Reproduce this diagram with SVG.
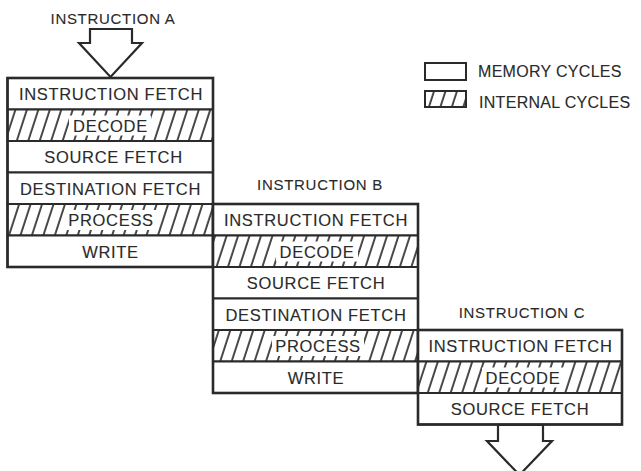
<svg xmlns="http://www.w3.org/2000/svg" width="641" height="471" viewBox="0 0 641 471">
<style>
.bg{fill:#fff}
.row{fill:#fff;stroke:#2a2a2a;stroke-width:2}
.hat{fill:url(#hatch);stroke:#2a2a2a;stroke-width:2}
.box{fill:none;stroke:#2a2a2a;stroke-width:2.6}
.t{font-family:"Liberation Sans",Arial,sans-serif;font-size:16.5px;letter-spacing:0.7px;fill:#2a2a2a;stroke:#2a2a2a;stroke-width:0.12;text-anchor:middle}
.h{font-family:"Liberation Sans",Arial,sans-serif;font-size:15px;letter-spacing:0.7px;fill:#2a2a2a;stroke:#2a2a2a;stroke-width:0.1;text-anchor:middle}
.l{font-family:"Liberation Sans",Arial,sans-serif;font-size:16px;letter-spacing:0.3px;fill:#2a2a2a;stroke:#2a2a2a;stroke-width:0.12}
.gap{fill:#fff}
.arrow{fill:#fff;stroke:#2a2a2a;stroke-width:2.2;stroke-linejoin:miter}
</style>
<defs>
<pattern id="hatch" patternUnits="userSpaceOnUse" width="10.9" height="10" patternTransform="rotate(18)">
<rect width="10.9" height="10" fill="#fff"/>
<line x1="5" y1="-1" x2="5" y2="11" stroke="#2a2a2a" stroke-width="1.7"/>
</pattern>
</defs>
<rect class="bg" x="0" y="0" width="641" height="471"/>

<g id="connectors">
<polygon class="arrow" points="90,29 132,29 132,43 142,43 110.5,77 79,43 90,43"/>
<polygon class="arrow" points="498,425 543,425 543,441 552,441 519.5,475 487,441 498,441"/>
</g>

<g id="legend">
<rect class="row" x="425" y="63" width="41" height="17"/>
<text class="l" x="478" y="77">MEMORY CYCLES</text>
<rect class="hat" x="425" y="91" width="41" height="16"/>
<text class="l" x="479" y="108">INTERNAL CYCLES</text>
</g>

<g id="instruction-a">
<text class="h" x="113" y="24">INSTRUCTION A</text>
<g id="a-fetch"><rect class="row" x="7.5" y="78" width="205.5" height="31.5"/><text class="t" x="111" y="100">INSTRUCTION FETCH</text></g>
<g id="a-decode"><rect class="hat" x="7.5" y="109.5" width="205.5" height="31.5"/><rect class="gap" x="69" y="115.5" width="82" height="20"/><text class="t" x="110.5" y="131.5">DECODE</text></g>
<g id="a-source"><rect class="row" x="7.5" y="141" width="205.5" height="31.5"/><text class="t" x="113.5" y="163">SOURCE FETCH</text></g>
<g id="a-dest"><rect class="row" x="7.5" y="172.5" width="205.5" height="31.5"/><text class="t" x="110.5" y="194.5">DESTINATION FETCH</text></g>
<g id="a-process"><rect class="hat" x="7.5" y="204" width="205.5" height="31.5"/><rect class="gap" x="65" y="210" width="92" height="20"/><text class="t" x="111" y="226">PROCESS</text></g>
<g id="a-write"><rect class="row" x="7.5" y="235.5" width="205.5" height="31.5"/><text class="t" x="110.5" y="257.5">WRITE</text></g>
<rect class="box" x="7.5" y="78" width="205.5" height="189"/>
</g>

<g id="instruction-b">
<text class="h" x="320" y="190">INSTRUCTION B</text>
<g id="b-fetch"><rect class="row" x="213" y="204" width="205" height="31.5"/><text class="t" x="316" y="226">INSTRUCTION FETCH</text></g>
<g id="b-decode"><rect class="hat" x="213" y="235.5" width="205" height="31.5"/><rect class="gap" x="276" y="241.5" width="82" height="20"/><text class="t" x="317" y="257.5">DECODE</text></g>
<g id="b-source"><rect class="row" x="213" y="267" width="205" height="31.5"/><text class="t" x="316" y="289">SOURCE FETCH</text></g>
<g id="b-dest"><rect class="row" x="213" y="298.5" width="205" height="31.5"/><text class="t" x="316" y="320.5">DESTINATION FETCH</text></g>
<g id="b-process"><rect class="hat" x="213" y="330" width="205" height="31.5"/><rect class="gap" x="272" y="336" width="92" height="20"/><text class="t" x="318" y="352">PROCESS</text></g>
<g id="b-write"><rect class="row" x="213" y="361.5" width="205" height="31.5"/><text class="t" x="316" y="383.5">WRITE</text></g>
<rect class="box" x="213" y="204" width="205" height="189"/>
</g>

<g id="instruction-c">
<text class="h" x="522" y="318">INSTRUCTION C</text>
<g id="c-fetch"><rect class="row" x="418" y="330" width="204" height="31.5"/><text class="t" x="520.5" y="352">INSTRUCTION FETCH</text></g>
<g id="c-decode"><rect class="hat" x="418" y="361.5" width="204" height="31.5"/><rect class="gap" x="482" y="367.5" width="82" height="20"/><text class="t" x="523" y="383.5">DECODE</text></g>
<g id="c-source"><rect class="row" x="418" y="393" width="204" height="31.5"/><text class="t" x="520" y="415">SOURCE FETCH</text></g>
<rect class="box" x="418" y="330" width="204" height="94.5"/>
</g>
</svg>
